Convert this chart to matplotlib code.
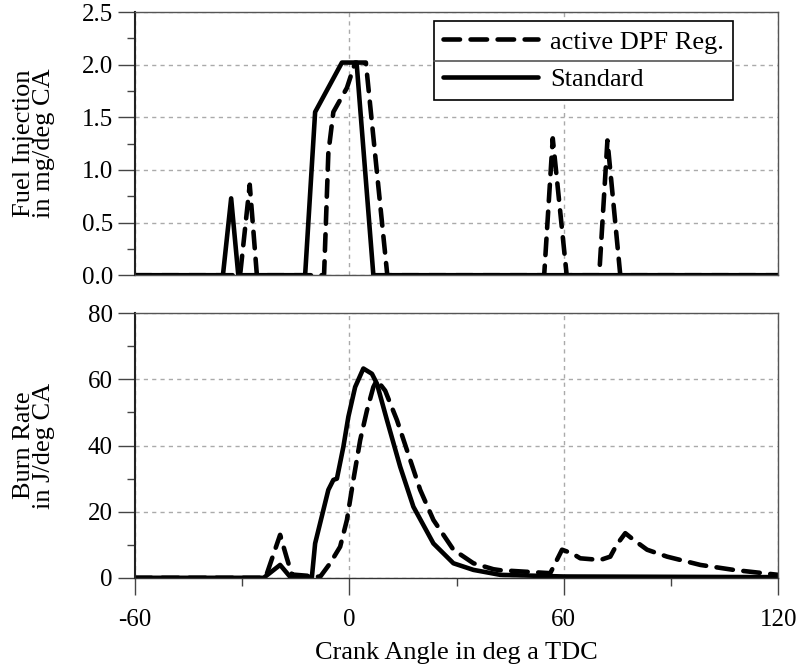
import numpy as np
import matplotlib.pyplot as plt
from matplotlib.lines import Line2D

plt.rcParams['font.family'] = ['Liberation Serif', 'DejaVu Serif']
plt.rcParams['font.size'] = 19
plt.rcParams['axes.unicode_minus'] = False

# ===== data =====
# fuel injection, standard operation
ca_inj_std = [-60, -35.4, -33.1, -31.1, -12.4, -9.6, -2.1, 2.0, 6.7, 120]
inj_std = [0, 0, 0.73, 0, 0, 1.55, 2.02, 2.02, 0, 0]

# fuel injection, active DPF regeneration
ca_inj_dpf = [-60, -30.6, -27.9, -25.9, -7.1, -5.9, -4.5, -0.7, 1.6, 4.6, 10.6,
              54.5, 56.9, 60.8, 69.9, 72.2, 75.8, 120]
inj_dpf = [0, 0, 0.86, 0, 0, 1.16, 1.55, 1.78, 2.02, 2.02, 0,
           0, 1.30, 0, 0, 1.28, 0, 0]

# burn rate, standard operation
ca_burn_std = [-60, -24.0, -19.4, -16.6, -10.5, -9.6, -5.9, -4.5, -3.5, -1.7, -0.3,
               1.6, 3.9, 6.3, 7.7, 10.5, 14.2, 17.9, 23.5, 29.1, 34.7, 42.2, 60, 120]
burn_std = [0, 0, 3.9, 0.3, 0.3, 10.4, 26.6, 29.6, 30, 39.6, 48.7,
            57.7, 63.3, 61.7, 58.7, 47.7, 33.6, 21.5, 10.4, 4.4, 2.4, 0.9, 0.4, 0.2]

# burn rate, active DPF regeneration
ca_burn_dpf = [-60, -23.5, -19.4, -17.5, -16.1, -8.2, -5.4, -2.6, -0.7, 1.1, 3.0, 4.9,
               6.7, 7.7, 10.0, 13.3, 16.1, 19.8, 23.5, 29.1, 34.7, 40.3, 42.2, 56.2,
               59.5, 62.3, 64.6, 70.2, 73.0, 74.8, 77.2, 79.5, 83.3, 88.9, 98.2, 107.5, 120]
burn_dpf = [0, 0, 13, 5.9, 1, 0.3, 4.4, 9.4, 17.5, 29.6, 41.6, 50.6,
            57.7, 59.8, 56.6, 47.7, 38.6, 26.6, 17.5, 8.5, 4.4, 2.6, 2.3, 1.4,
            8.5, 7.4, 5.9, 5.4, 6.4, 10.0, 13.5, 11.5, 8.5, 6.4, 3.9, 2.4, 0.9]

series_labels = ['active DPF Reg.', 'Standard']

# ===== figure =====
fig = plt.figure(figsize=(7.99, 6.68), dpi=100)
ax1 = fig.add_axes([0.169, 0.588, 0.805, 0.394])
ax2 = fig.add_axes([0.169, 0.135, 0.805, 0.396])

lw = 3.3
dash = (0, (3.6, 2.3))


def style_axes(ax):
    ax.set_xlim(-60, 120)
    ax.set_xticks([-60, 0, 60, 120])
    ax.set_xticks([-30, 30, 90], minor=True)
    ax.grid(True, which='major', color='#aaaaaa', linestyle=(0, (3, 3)), linewidth=1)
    ax.set_axisbelow(True)
    for s in ['top', 'right', 'bottom']:
        ax.spines[s].set_color('#555555')
        ax.spines[s].set_linewidth(1)
    ax.spines['left'].set_color('#222222')
    ax.spines['left'].set_linewidth(1.5)
    ax.tick_params(axis='y', which='major', direction='out', length=12.5, width=1,
                   color='#444444', pad=3.5, labelsize=18)
    ax.tick_params(axis='y', which='minor', direction='out', length=5.5, width=1,
                   color='#444444')


# top: fuel injection
ax1.plot(ca_inj_dpf, inj_dpf, color='black', lw=lw, linestyle=dash,
         dash_capstyle='round', solid_joinstyle='round', label=series_labels[0])
ax1.plot(ca_inj_std, inj_std, color='black', lw=lw, solid_capstyle='round',
         solid_joinstyle='round', label=series_labels[1])
style_axes(ax1)
ax1.set_ylim(0, 2.5)
ax1.set_yticks(np.arange(0, 2.51, 0.5))
ax1.set_yticks(np.arange(0.25, 2.5, 0.5), minor=True)
ax1.yaxis.set_major_formatter(plt.FormatStrFormatter('%.1f'))
ax1.tick_params(axis='x', which='both', length=0, labelbottom=False)
ax1.set_ylabel('Fuel Injection\nin mg/deg CA', linespacing=0.9)
ax1.yaxis.set_label_coords(-0.124, 0.5)

leg = ax1.legend(loc='upper left', bbox_to_anchor=(0.465, 0.966), borderaxespad=0,
                 fancybox=False, edgecolor='black', framealpha=1, handlelength=3.6,
                 labelspacing=0.52, borderpad=0.35, handletextpad=0.45)
leg.get_frame().set_linewidth(1.2)

# bottom: burn rate
ax2.plot(ca_burn_dpf, burn_dpf, color='black', lw=lw, linestyle=dash,
         dash_capstyle='round', solid_joinstyle='round')
ax2.plot(ca_burn_std, burn_std, color='black', lw=lw, solid_capstyle='round',
         solid_joinstyle='round')
style_axes(ax2)
ax2.set_ylim(0, 80)
ax2.set_yticks(np.arange(0, 81, 20))
ax2.set_yticks(np.arange(10, 80, 20), minor=True)
ax2.spines['bottom'].set_color('#333333')
ax2.tick_params(axis='x', which='major', direction='out', length=12.5, width=1,
                color='#444444', pad=10, labelsize=18)
ax2.tick_params(axis='x', which='minor', direction='out', length=5.5, width=1,
                color='#444444')
ax2.set_ylabel('Burn Rate\nin J/deg CA', linespacing=0.9)
ax2.yaxis.set_label_coords(-0.124, 0.5)
ax2.set_xlabel('Crank Angle in deg a TDC', labelpad=8)

# divider line between the two legend rows
fig.canvas.draw()
bb = leg.get_window_extent().transformed(fig.transFigure.inverted())
ymid = (bb.y0 + bb.y1) / 2
fig.add_artist(Line2D([bb.x0, bb.x1], [ymid, ymid], transform=fig.transFigure,
                      color='#555555', lw=1.2, zorder=10))

fig.savefig('out.png', dpi=100)
